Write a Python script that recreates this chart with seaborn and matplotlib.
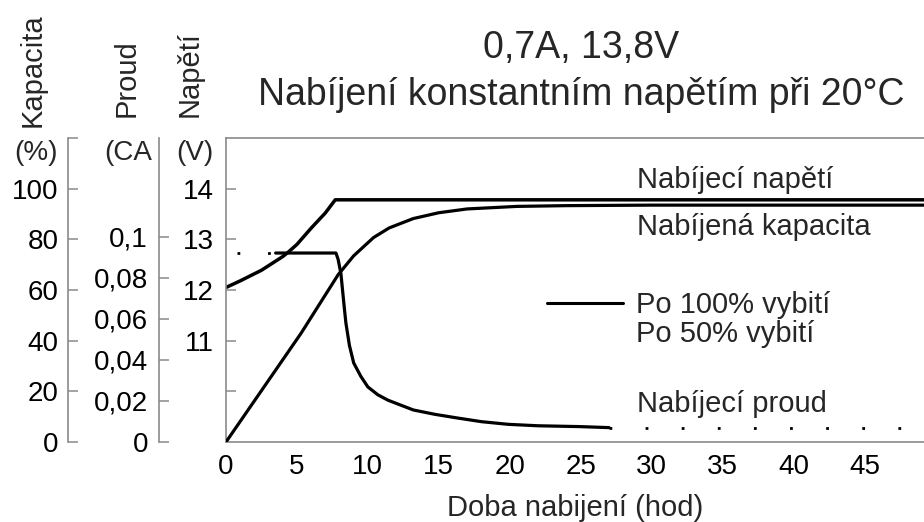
import pandas as pd
import seaborn as sns
import matplotlib.pyplot as plt
from matplotlib.lines import Line2D

# Charging voltage after 100% discharge (V)
volt_t = [0, 1, 2, 2.5, 3, 4, 4.4, 5, 6, 7, 7.7, 49.5]
volt_v = [12.05, 12.18, 12.32, 12.39, 12.48, 12.66, 12.75, 12.9, 13.22, 13.52, 13.78, 13.78]

# Charged capacity (%)
cap_t = [0, 5.3, 7.9, 9.0, 10.4, 11.5, 13.2, 15, 17, 20.5, 24, 30, 49.5]
cap_v = [0, 43, 66, 73.5, 80.7, 84.5, 88.2, 90.5, 92, 93, 93.3, 93.5, 93.5]

# Charging current (CA), solid part
cur_t = [3.5, 7.75, 7.9, 8.1, 8.3, 8.45, 8.7, 9.0, 9.5, 10, 10.7, 11.4, 12.3, 13.2,
         14.7, 16.3, 18, 19.9, 22, 24.9, 27]
cur_v = [0.092, 0.092, 0.089, 0.082, 0.068, 0.058, 0.047, 0.0385, 0.032, 0.0268, 0.023,
         0.0204, 0.018, 0.0156, 0.0135, 0.0117, 0.0099, 0.0086, 0.0079, 0.0075, 0.0070]

# Charging current after 50% discharge (dotted fragments)
cur50_start_t = [0.8, 3.5]
cur50_start_v = [0.092, 0.092]
cur50_tail_t = [27, 49.5]
cur50_tail_v = [0.0068, 0.0068]

x_ticks = [0, 5, 10, 15, 20, 25, 30, 35, 40, 45]
volt_ticks = [10, 11, 12, 13, 14]
volt_labels = ["", "11", "12", "13", "14"]
cap_ticks = [0, 20, 40, 60, 80, 100, 120]
cap_labels = ["0", "20", "40", "60", "80", "100", ""]
cur_ticks = [0, 0.02, 0.04, 0.06, 0.08, 0.1]
cur_labels = ["0", "0,02", "0,04", "0,06", "0,08", "0,1"]

sns.set_theme(style="white")
plt.rcParams["font.family"] = ["Liberation Sans", "DejaVu Sans"]

spine_col = "#8a8a8a"
W, H = 924, 522
fig = plt.figure(figsize=(W / 100, H / 100), dpi=100)
ax = fig.add_axes([226 / W, 80 / H, 698 / W, 304 / H])
ax_cap = ax.twinx()
ax_cur = ax.twinx()

# curves
sns.lineplot(x=volt_t, y=volt_v, ax=ax, color="black", linewidth=2.5, legend=False)
sns.lineplot(x=cap_t, y=cap_v, ax=ax_cap, color="black", linewidth=2.3, legend=False)
sns.lineplot(x=cur_t, y=cur_v, ax=ax_cur, color="black", linewidth=2.3, legend=False)
sns.lineplot(x=cur50_start_t, y=cur50_start_v, ax=ax_cur, color="black",
             linewidth=2.0, linestyle=(0, (1, 10)), legend=False)
sns.lineplot(x=cur50_tail_t, y=cur50_tail_v, ax=ax_cur, color="black",
             linewidth=2.0, linestyle=(0, (1, 12)), legend=False)

# main axis (voltage)
ax.set_xlim(0, 49.2)
ax.set_ylim(9, 15)
ax.set_xticks(x_ticks)
ax.set_yticks(volt_ticks, volt_labels)
ax.set_xlabel("Doba nabijení (hod)", fontsize=21, labelpad=10)
ax.set_ylabel("")
ax.spines["right"].set_visible(False)
for s in ["left", "top", "bottom"]:
    ax.spines[s].set_color(spine_col)
    ax.spines[s].set_linewidth(1.2)
ax.tick_params(axis="both", direction="in", length=7, width=1.1, color=spine_col,
               labelsize=20, labelcolor="black")
ax.tick_params(axis="y", pad=9)
ax.tick_params(axis="x", pad=9)

# extra left axes
for tw, pos, lim, ticks, labels, pad in [
    (ax_cap, (68 - 226) / 698, (0, 120), cap_ticks, cap_labels, 7),
    (ax_cur, (159 - 226) / 698, (0, 0.148), cur_ticks, cur_labels, 8),
]:
    for s in ["top", "right", "bottom"]:
        tw.spines[s].set_visible(False)
    tw.spines["left"].set_visible(True)
    tw.spines["left"].set_position(("axes", pos))
    tw.spines["left"].set_color(spine_col)
    tw.spines["left"].set_linewidth(1.2)
    tw.yaxis.set_ticks_position("left")
    tw.yaxis.set_label_position("left")
    tw.set_ylim(*lim)
    tw.set_yticks(ticks, labels)
    tw.set_ylabel("")
    tw.tick_params(axis="y", direction="in", length=7, width=1.1, color=spine_col,
                   labelsize=20, labelcolor="black", pad=pad)

# axis names and units
fig.text(33 / W, 1 - 127 / H, "Kapacita", rotation=90, ha="center", va="bottom", fontsize=21)
fig.text(127 / W, 1 - 117 / H, "Proud", rotation=90, ha="center", va="bottom", fontsize=21)
fig.text(190 / W, 1 - 117 / H, "Napětí", rotation=90, ha="center", va="bottom", fontsize=21)
fig.text(58 / W, 1 - 153 / H, "(%)", ha="right", va="center", fontsize=20)
fig.text(152 / W, 1 - 153 / H, "(CA", ha="right", va="center", fontsize=20)
fig.text(213 / W, 1 - 153 / H, "(V)", ha="right", va="center", fontsize=20)

# title
fig.text(581 / W, 1 - 48 / H, "0,7A, 13,8V", ha="center", va="center", fontsize=27)
fig.text(581 / W, 1 - 95 / H, "Nabíjení konstantním napětím při 20°C",
         ha="center", va="center", fontsize=27)

# curve labels
ax.text(29, 14.17, "Nabíjecí napětí", ha="left", va="center", fontsize=21)
ax.text(29, 13.25, "Nabíjená kapacita", ha="left", va="center", fontsize=21)
ax.text(29, 9.75, "Nabíjecí proud", ha="left", va="center", fontsize=21)

handles = [Line2D([], [], color="black", lw=2.2), Line2D([], [], color="black", lw=0)]
ax_cur.legend(handles, ["Po 100% vybití", "Po 50% vybití"], loc="upper left",
              bbox_to_anchor=(547 / W, 1 - 291 / H), bbox_transform=fig.transFigure,
              frameon=False, fontsize=21, handlelength=2.6, handletextpad=0.45,
              borderpad=0, borderaxespad=0, labelspacing=0.05)

fig.savefig("out.png", dpi=100)
